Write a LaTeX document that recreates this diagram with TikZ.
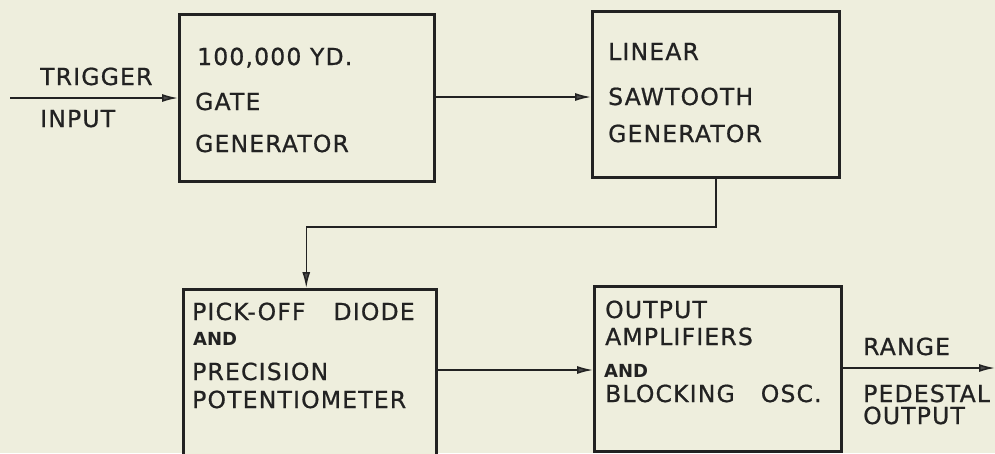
\documentclass[tikz,border=0pt]{standalone}
\usepackage{fontspec}
\usetikzlibrary{arrows.meta}
\newfontfamily\lbl{DejaVu Sans}[LetterSpace=5,FakeBold=0.8]
\newfontfamily\andf{DejaVu Sans}
\definecolor{paper}{RGB}{238,238,221}
\definecolor{ink}{RGB}{34,34,34}
\definecolor{tipc}{RGB}{75,75,75}
\tikzset{
  blk/.style={draw=ink, line width=2.5pt, fill=paper, rectangle, inner sep=0pt, anchor=north west},
  lab/.style={anchor=base west, inner sep=0pt, text height=17pt, text depth=0pt, text=ink, font=\lbl\fontsize{23.5}{25}\selectfont},
  andlab/.style={anchor=base west, inner sep=0pt, text height=13pt, text depth=0pt, text=ink, font=\andf\bfseries\fontsize{18}{20}\selectfont},
  conn/.style={draw=ink, line width=1.5pt},
  arr/.style={conn, -{Latex[length=16pt,width=8pt,fill=tipc]}}
}
\begin{document}
\begin{tikzpicture}[x=1pt,y=-1pt]
\useasboundingbox (0,0) rectangle (995,453);
\clip (0,0) rectangle (995,453);
\fill[paper] (0,0) rectangle (995,453);
% blocks
\node[blk, minimum width=255pt, minimum height=167pt] (b1) at (178,13) {};
\node[blk, minimum width=247pt, minimum height=166pt] (b2) at (591,10) {};
\node[blk, minimum width=253pt, minimum height=175pt] (b3) at (182,288) {};
\node[blk, minimum width=247pt, minimum height=165pt] (b4) at (593,285) {};
% texts
\node[lab] (t1) at (40,85) {TRIGGER};
\node[lab] (t2) at (40,127) {INPUT};
\node[lab] (a1) at (197,65) {100,000 YD.};
\node[lab] (a2) at (195,110) {GATE};
\node[lab] (a3) at (195,152) {GENERATOR};
\node[lab] (c1) at (608,60) {LINEAR};
\node[lab] (c2) at (608,105) {SAWTOOTH};
\node[lab] (c3) at (608,142) {GENERATOR};
\node[lab] (d1) at (192,320) {PICK-OFF\hspace{28pt}DIODE};
\node[andlab] (d2) at (193,345) {AND};
\node[lab] (d3) at (192,380) {PRECISION};
\node[lab] (d4) at (192,408) {POTENTIOMETER};
\node[lab] (e1) at (605,318) {OUTPUT};
\node[lab] (e2) at (605,345) {AMPLIFIERS};
\node[andlab] (e3) at (604,377) {AND};
\node[lab] (e4) at (605,402) {BLOCKING\hspace{26pt}OSC.};
\node[lab] (f1) at (863,355) {RANGE};
\node[lab] (f2) at (863,402) {PEDESTAL};
\node[lab] (f3) at (863,424) {OUTPUT};
% connectors
\coordinate (in) at (10,98);
\coordinate (out) at (995,368);
\coordinate (bend) at (716,227);
\draw[arr] (in) -- (in -| b1.west);
\draw[arr] (b1.east |- 0,97) -- (b2.west |- 0,97);
\draw[arr] (b2.south -| bend) -- (bend) -| ([xshift=-3.5pt]b3.north);
\draw[arr] (b3.east |- 0,370) -- (b4.west |- 0,370);
\draw[arr] (b4.east |- out) -- (out);
\end{tikzpicture}
\end{document}
